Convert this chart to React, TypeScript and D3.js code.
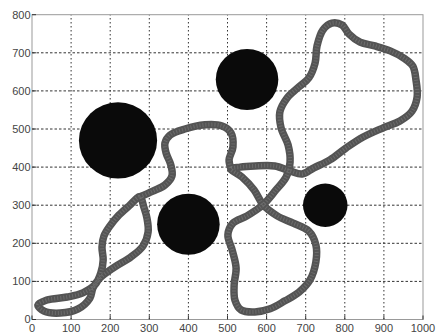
import React from "react";
import * as d3 from "d3";

const xTicks = [0, 100, 200, 300, 400, 500, 600, 700, 800, 900, 1000];
const yTicks = [0, 100, 200, 300, 400, 500, 600, 700, 800];

// obstacles (data units)
const obstacleX = [220, 550, 400, 750];
const obstacleY = [470, 630, 250, 300];
const obstacleR = [100, 80, 80, 57];

// lower-left loop + lens (closed)
const loopX = [276, 286, 294, 297, 284, 253, 212, 174, 156, 148, 118, 72, 31, 15, 38, 90, 130, 161, 176, 182, 179, 184, 199, 222, 248];
const loopY = [322, 295, 266, 230, 193, 164, 138, 109, 83, 56, 28, 17, 22, 38, 51, 59, 70, 91, 122, 156, 190, 219, 245, 274, 298];

// connecting bump
const bumpX = [276, 309, 340, 358, 355, 343, 340, 353, 391, 442, 486, 509, 514, 504, 509];
const bumpY = [322, 337, 353, 377, 406, 437, 463, 484, 500, 511, 508, 490, 453, 419, 395];

// right-hand structure (closed)
const rightX = [509, 537, 568, 591, 627, 668, 708, 726, 726, 711, 683, 647, 609, 570, 535, 519, 517, 522, 512, 501, 514, 550, 591, 624, 650, 660, 655, 637, 634, 652, 680, 708, 724, 729, 744, 767, 793, 811, 839, 877, 916, 951, 974, 982, 985, 972, 941, 898, 847, 803, 762, 721, 691, 660, 621, 570, 532];
const rightY = [395, 374, 340, 301, 272, 253, 232, 196, 151, 104, 72, 49, 28, 20, 25, 51, 91, 135, 182, 222, 253, 272, 301, 340, 374, 413, 458, 503, 545, 581, 608, 634, 673, 718, 760, 778, 773, 749, 728, 718, 705, 686, 665, 629, 584, 547, 521, 503, 479, 450, 419, 398, 382, 390, 403, 403, 400];

export default function App() {
  const W = 436, H = 335;
  const x = d3.scaleLinear().domain([0, 1000]).range([32, 423]);
  const y = d3.scaleLinear().domain([0, 800]).range([319.5, 14.7]);
  const zip = (a: number[], b: number[]) => a.map((v, i) => [v, b[i]] as [number, number]);
  const open = d3.line<[number, number]>().x(d => x(d[0])).y(d => y(d[1])).curve(d3.curveCatmullRom.alpha(0.5));
  const closed = d3.line<[number, number]>().x(d => x(d[0])).y(d => y(d[1])).curve(d3.curveCatmullRomClosed.alpha(0.5));
  const paths = [closed(zip(loopX, loopY)), open(zip(bumpX, bumpY)), closed(zip(rightX, rightY))];
  const [x0, x1] = x.range();
  const [y0, y1] = y.range();
  const font = "'Liberation Sans', Arial, sans-serif";
  return (
    <svg width={W} height={H} style={{ position: "absolute", left: 0, top: 0, background: "#fff" }}>
      <rect x={0} y={0} width={W} height={H} fill="#fff" />
      {xTicks.slice(1, -1).map(t => (
        <line key={"gx" + t} x1={x(t)} x2={x(t)} y1={y0} y2={y1} stroke="#333" strokeWidth={1} strokeDasharray="1.5 2.5" />
      ))}
      {yTicks.slice(1, -1).map(t => (
        <line key={"gy" + t} x1={x0} x2={x1} y1={y(t)} y2={y(t)} stroke="#333" strokeWidth={1} strokeDasharray="2.5 2" />
      ))}
      <rect x={x0} y={y1} width={x1 - x0} height={y0 - y1} fill="none" stroke="#999" strokeWidth={1} />
      {xTicks.map(t => (
        <line key={"tx" + t} x1={x(t)} x2={x(t)} y1={y0} y2={y0 - 4} stroke="#333" />
      ))}
      {yTicks.map(t => (
        <line key={"ty" + t} x1={x0} x2={x0 + 4} y1={y(t)} y2={y(t)} stroke="#333" />
      ))}
      {paths.map((p, i) => (
        <path key={"p" + i} d={p || ""} fill="none" stroke="#545454" strokeWidth={7.5} strokeLinecap="round" strokeLinejoin="round" />
      ))}
      {paths.map((p, i) => (
        <path key={"q" + i} d={p || ""} fill="none" stroke="#8a8a8a" strokeWidth={4} strokeDasharray="1 2" opacity={0.45} />
      ))}
      {obstacleX.map((cx, i) => (
        <ellipse key={"o" + i} cx={x(cx)} cy={y(obstacleY[i])}
          rx={x(obstacleR[i]) - x(0)} ry={y(0) - y(obstacleR[i])} fill="#0a0a0a" />
      ))}
      {xTicks.map(t => (
        <text key={"lx" + t} x={x(t)} y={332} textAnchor="middle" fontFamily={font} fontSize={11} fill="#444">{t}</text>
      ))}
      {yTicks.map(t => (
        <text key={"ly" + t} x={30.5} y={y(t)} dy="0.35em" textAnchor="end" fontFamily={font} fontSize={11} fill="#444">{t}</text>
      ))}
    </svg>
  );
}
